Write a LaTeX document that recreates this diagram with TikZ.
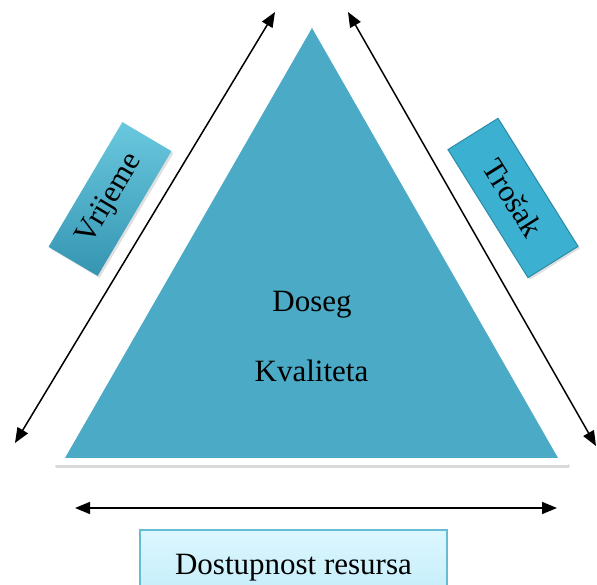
\documentclass[tikz,border=0pt]{standalone}
\usepackage{fontspec}
\setmainfont{Liberation Serif}
\usetikzlibrary{arrows.meta,shadows}
\definecolor{tri}{HTML}{4BAAC5}
\definecolor{vrlight}{HTML}{6AC8DE}
\definecolor{vrdark}{HTML}{3595B2}
\definecolor{trfill}{HTML}{3CB0D0}
\definecolor{tredge}{HTML}{2A8CA8}
\definecolor{bxtop}{HTML}{DDF7FE}
\definecolor{bxbot}{HTML}{C6EEFA}
\definecolor{bxedge}{HTML}{66BCD2}
\begin{document}
\begin{tikzpicture}[x=1pt,y=1pt,
  lbl/.style={font=\fontsize{31}{36}\selectfont},
  arr/.style={line width=1.5pt,{Triangle[length=15pt,width=12pt]}-{Triangle[length=15pt,width=12pt]}},
  sidebox/.style={lbl,inner sep=0pt,drop shadow={opacity=0.25,shadow xshift=2pt,shadow yshift=-2pt}}]
\useasboundingbox (0,0) rectangle (597,585);
\clip (0,0) rectangle (597,585);
% triangle
\coordinate (oL) at (53,120);
\coordinate (oA) at (312,572);
\coordinate (oR) at (570,120);
\coordinate (iL) at (65,127);
\coordinate (iA) at (312,557);
\coordinate (iR) at (558,127);
\fill[white,rounded corners=3pt,drop shadow={opacity=0.3,shadow xshift=1pt,shadow yshift=-3pt}] (oL) -- (oA) -- (oR) -- cycle;
\fill[tri] (iL) -- (iA) -- (iR) -- cycle;
\node[lbl,anchor=base] (doseg) at (312,273) {Doseg};
\node[lbl,anchor=base] (kval) at (311.5,203) {Kvaliteta};
% arrows
\coordinate (l1) at (275,573);
\coordinate (l2) at (15,142);
\coordinate (r1) at (348,573);
\coordinate (r2) at (596,139);
\coordinate (b1) at (75,77);
\coordinate (b2) at (557,77);
\draw[arr] (l2) -- (l1);
\draw[arr] (r1) -- (r2);
\draw[arr] (b1) -- (b2);
% side boxes
\node[sidebox,minimum width=145pt,minimum height=57pt,rotate=59.4,top color=vrlight,bottom color=vrdark] (vr) at (110,386) {Vrijeme};
\node[sidebox,minimum width=151pt,minimum height=59pt,rotate=-58,fill=trfill,draw=tredge,line width=1pt] (tr) at (513,387) {Trošak};
% bottom box
\node[lbl,anchor=base,minimum width=307pt,inner xsep=0pt,inner ysep=0pt,text height=45pt,text depth=15pt,top color=bxtop,bottom color=bxbot,draw=bxedge,line width=1.5pt] (res) at (293.5,10) {Dostupnost resursa};
\end{tikzpicture}
\end{document}
